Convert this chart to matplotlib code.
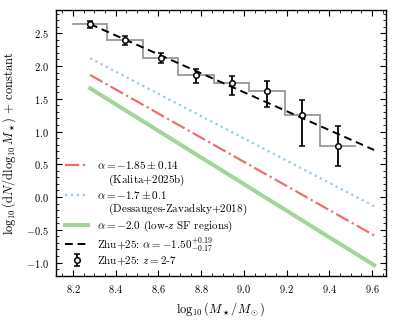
import matplotlib
matplotlib.use("Agg")
import matplotlib.pyplot as plt
from matplotlib.lines import Line2D
from matplotlib.ticker import MultipleLocator, FuncFormatter

plt.rcParams['font.family'] = 'cmr10'
plt.rcParams['mathtext.fontset'] = 'cm'
plt.rcParams['axes.formatter.use_mathtext'] = True
plt.rcParams['axes.unicode_minus'] = True

# Zhu+25 binned counts (step histogram + points)
bin_edges = [8.195, 8.361, 8.527, 8.693, 8.859, 9.025, 9.191, 9.357, 9.523]
bin_centers = [8.278, 8.444, 8.610, 8.776, 8.942, 9.108, 9.274, 9.440]
counts = [2.637, 2.398, 2.118, 1.863, 1.737, 1.624, 1.253, 0.784]
err_up = [0.046, 0.061, 0.086, 0.092, 0.111, 0.152, 0.229, 0.301]
err_lo = [0.057, 0.072, 0.076, 0.128, 0.180, 0.245, 0.469, 0.305]

# power-law reference lines (endpoints)
line_x = [8.28, 9.61]
kalita_y = [1.863, -0.585]
dessauges_y = [2.118, -0.140]
lowz_y = [1.659, -1.040]
zhu_fit_y = [2.640, 0.718]

fig = plt.figure(figsize=(3.97, 3.2), dpi=100)
ax = fig.add_axes([0.141, 0.1375, 0.831, 0.8315])

ax.stairs(counts, bin_edges, color='#999999', lw=1.3, baseline=None, zorder=2)

h_kal, = ax.plot(line_x, kalita_y, color='#e8716d', lw=1.6, ls='-.')
h_des, = ax.plot(line_x, dessauges_y, color='#93cbe8', lw=1.6, ls=':')
h_low, = ax.plot(line_x, lowz_y, color='#a3d49a', lw=2.9)
h_fit, = ax.plot(line_x, zhu_fit_y, color='k', lw=1.4, ls=(0, (4, 2.5)), zorder=4)
h_pts = ax.errorbar(bin_centers, counts, yerr=[err_lo, err_up], fmt='o', ms=4,
                    mfc='white', mec='k', mew=1.1, ecolor='k', elinewidth=1.3,
                    capsize=2.5, capthick=1.1, zorder=5)

ax.set_xlim(8.12, 9.665)
ax.set_ylim(-1.205, 2.856)
ax.xaxis.set_major_locator(MultipleLocator(0.2))
ax.xaxis.set_minor_locator(MultipleLocator(0.05))
ax.yaxis.set_major_locator(MultipleLocator(0.5))
ax.yaxis.set_minor_locator(MultipleLocator(0.1))
fmt = FuncFormatter(lambda v, p: '$%.1f$' % v)
ax.xaxis.set_major_formatter(fmt)
ax.yaxis.set_major_formatter(fmt)
ax.tick_params(which='both', direction='in', top=True, right=True, labelsize=7.5)
ax.tick_params(which='major', length=4, pad=5)
ax.tick_params(which='minor', length=2)
for s in ax.spines.values():
    s.set_linewidth(1.0)

ax.set_xlabel('$\\log_{10}(M_\\star/M_\\odot)$', fontsize=9)
ax.set_ylabel('$\\log_{10}(\\mathrm{d}N/\\mathrm{d}\\log_{10}M_\\star)$ + constant',
              fontsize=9, labelpad=6)

# second lines of the two-line labels as blank-handle rows
blank = Line2D([], [], color='none')
handles = [h_kal, blank, h_des, blank, h_low, h_fit, h_pts]
labels = ['$\\alpha=-1.85\\pm0.14$',
          '$\\quad\\,$(Kalita+2025b)',
          '$\\alpha=-1.7\\pm0.1$',
          '$\\quad\\,$(Dessauges-Zavadsky+2018)',
          '$\\alpha=-2.0$ (low-$z$ SF regions)',
          'Zhu+25: $\\alpha=-1.50^{+0.19}_{-0.17}$',
          'Zhu+25: $z=2$-$7$']
ax.legend(handles, labels, loc='lower left', frameon=False, fontsize=8,
          handlelength=2.1, labelspacing=0.1, borderpad=0.4,
          borderaxespad=0.4, handletextpad=0.8)

fig.savefig('out.png', dpi=100)
